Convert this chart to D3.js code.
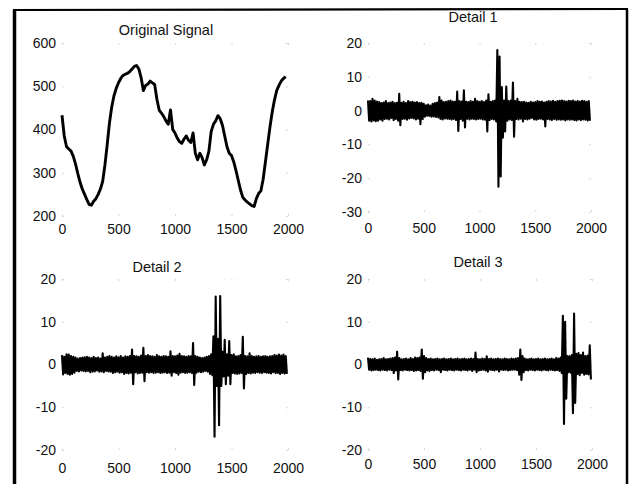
<!DOCTYPE html>
<html>
<head>
<meta charset="utf-8">
<script src="https://cdn.jsdelivr.net/npm/d3@7"></script>
<style>
  html, body { margin: 0; padding: 0; background: #fff; }
  svg { display: block; }
  text { font-family: "Liberation Sans", Arial, Helvetica, sans-serif; fill: #111; }
</style>
</head>
<body>
<svg id="chart" width="630" height="484"></svg>
<script>
// ---------- DATA ----------
const xTicks = [0, 500, 1000, 1500, 2000];
const origTicks = [200, 300, 400, 500, 600];
const d1Ticks = [-30, -20, -10, 0, 10, 20];
const dTicks = [-20, -10, 0, 10, 20];
const titles = ["Original Signal", "Detail 1", "Detail 2", "Detail 3"];

// Original signal, sampled every 20 (x = 0 .. 1980)
const originalStep = 20;
const original = [
  433, 385, 360, 355, 350, 338, 320, 298, 278, 262,
  250, 238, 227, 225, 234, 240, 250, 262, 280, 318,
  365, 415, 452, 478, 495, 508, 518, 525, 528, 530,
  534, 540, 546, 548, 540, 520, 490, 502, 505, 512,
  508, 504, 470, 445, 438, 430, 420, 412, 445, 400,
  392, 380, 372, 368, 378, 385, 375, 370, 392, 345,
  330, 345, 335, 318, 330, 350, 395, 412, 420, 432,
  425, 410, 385, 360, 345, 340, 325, 305, 282, 260,
  243, 237, 232, 228, 224, 222, 240, 252, 258, 285,
  325, 365, 405, 440, 468, 490, 502, 512, 518, 522
];

// Detail coefficients, sampled every 10 (x = 0 .. 1990)
const detailStep = 10;
const detail1 = [
  3,-3,2.8,-3.2,3.5,-2.9,3,-3.1,2.7,-3,
  2.5,-2.6,2.2,-3,2.4,-2.5,2.8,-2.4,2.2,-2.6,
  2.4,-2.2,2.6,-2.8,2.2,-2.5,2.3,-3,5,-4.3,
  2.3,-2.5,2.6,-2.4,2.2,-2.7,2.8,-2.3,2.5,-2.2,
  2.6,-2.3,2.4,-2.6,2.5,-2.4,2.2,-4,2.3,-2.5,
  2,-1.8,1.6,-1.5,1.8,-1.6,1.5,-1.8,2,-1.7,
  2.2,-1.9,2.4,-2,4,-2.5,3,-2.6,2.5,-2.3,
  2.6,-2.4,2.8,-2.5,3,-2.6,2.7,-2.5,2.6,-2.8,
  5.6,-6,2.8,-2.5,2.7,-3,6,-5,2.6,-2.4,
  2.5,-2.6,2.8,-2.4,2.6,-2.5,3.5,-2.6,2.8,-2.5,
  2.6,-2.4,2.8,-2.6,2.5,-2.7,3,-6.2,4.8,-2.8,
  2.6,-2.5,2.8,-2.6,3,-3.2,17.9,-22.5,16,-19.5,
  7,-8,3,-6.2,7.1,-3,2.8,-2.6,3,-2.8,
  8.3,-7.7,2.8,-2.5,3.5,-2.6,2.6,-2.4,2.5,-3.2,
  2.6,-2.5,2.4,-2.6,2.3,-2.4,2.6,-2.2,2.4,-2.6,
  2.5,-2.7,2.8,-2.5,2.6,-2.4,2.7,-2.6,2.4,-4.7,
  2.6,-2.5,2.8,-2.6,2.7,-2.8,2.9,-2.5,2.6,-2.7,
  2.8,-2.6,2.9,-2.7,3,-2.6,2.8,-2.9,2.7,-2.6,
  2.9,-2.7,2.8,-2.6,3,-2.8,2.7,-2.9,2.8,-2.6,
  2.7,-2.8,2.9,-2.6,2.8,-2.7,2.6,-2.9,2.8,-3
];
const detail2 = [
  2.2,-2.3,1.8,-2,2.4,-2.2,2.3,-2.4,2,-2.2,
  1.8,-1.9,1.6,-1.5,1.4,-1.6,1.5,-1.4,1.6,-1.5,
  1.7,-1.6,1.8,-1.5,1.6,-1.8,1.5,-1.7,1.8,-1.6,
  1.5,-1.4,1.6,-1.7,1.4,-1.6,2.6,-1.8,1.6,-1.5,
  1.8,-1.6,2,-1.7,1.8,-2,1.6,-1.8,1.9,-1.7,
  1.7,-1.9,2,-1.8,1.6,-2.2,1.9,-2,1.8,-2.1,
  2,-1.9,3.5,-4.6,2,-1.8,1.9,-2.1,1.8,-2,
  2.1,-1.9,3.9,-3.9,2,-1.8,2.2,-1.9,2,-1.8,
  1.9,-2,1.8,-1.9,2.2,-1.8,1.9,-2,1.8,-1.9,
  2,-1.8,1.9,-2,1.8,-1.9,3.1,-2.6,2,-1.8,
  1.9,-2,2.1,-2.4,2.5,-1.9,2,-1.8,1.9,-2,
  1.8,-1.9,2,-1.8,1.9,-2,5,-4.8,2,-1.9,
  1.8,-1.7,1.6,-1.8,1.5,-1.7,1.6,-1.5,1.8,-1.7,
  2,-2.2,2.4,-2.5,6.6,-16.9,15.9,-5,6,-14.2,
  16,-5,3,-2.8,5.8,-4.6,2.4,-2.6,5.5,-4.6,
  2.2,-2,2.4,-2.1,1.9,-2.2,2,-2.1,2.2,-2,
  6.5,-5.6,2,-2.2,1.9,-2,2.6,-2.1,2,-1.9,
  1.8,-2,1.9,-1.8,2,-1.9,1.8,-2,1.9,-1.8,
  2,-1.9,1.8,-2,1.9,-2.1,2,-1.8,2.2,-2,
  2.1,-2,2.3,-2.2,2.1,-2,2.3,-2.1,2,-2.2
];
const detail3 = [
  1.6,-1.2,1.3,-1.4,1.2,-1.3,1.4,-1.2,1.1,-1.3,
  1.2,-1.4,1.3,-1.2,1.5,-1.3,1.2,-1.4,1.3,-1.2,
  1.4,-1.3,1.5,-2,1.6,-1.4,3,-3.5,1.5,-1.3,
  1.2,-1.4,1.3,-1.2,1.4,-1.3,1.2,-1.4,1.5,-1.3,
  1.3,-1.5,1.6,-1.4,1.5,-1.3,1.6,-1.5,3.5,-3.3,
  2,-1.8,1.5,-1.4,1.3,-1.5,1.4,-1.3,1.2,-1.4,
  1.3,-1.2,1.4,-1.3,1.2,-1.8,1.3,-1.2,1.4,-1.3,
  1.2,-1.4,1.3,-1.2,1.4,-1.3,1.2,-1.4,1.3,-1.2,
  1.4,-1.3,1.2,-1.4,1.3,-1.2,1.4,-1.3,1.2,-1.4,
  1.3,-1.2,1.4,-1.5,1.3,-1.2,2.8,-1.8,1.3,-1.4,
  1.2,-1.3,1.4,-1.2,1.3,-1.4,1.9,-1.7,1.3,-1.2,
  1.4,-1.3,1.2,-1.4,1.3,-1.2,1.4,-1.6,1.3,-1.2,
  1.2,-1.3,1.4,-1.2,1.3,-1.4,1.2,-1.3,1.4,-1.2,
  1.3,-1.2,1.4,-1.3,1.5,-2.4,3.5,-3.6,2,-1.8,
  1.4,-1.3,1.2,-1.4,1.3,-1.2,1.4,-1.3,1.2,-1.4,
  1.3,-1.2,1.4,-1.3,1.2,-1.4,1.3,-1.2,1.4,-1.3,
  1.2,-1.4,1.3,-1.2,1.4,-1.3,1.2,-1.4,1.5,-1.3,
  1.4,-1.5,1.6,-2,11.4,-13.9,10,-8,2,-1.8,
  2,-1.9,2.2,-11.4,11.9,-9,2.5,-2.2,2.7,-2.5,
  2.2,-2,2.8,-2.4,2,-2.2,2.1,-2.3,4.5,-3.5
];

// ---------- LAYOUT ----------
const panels = [
  { title: titles[0], data: original, step: originalStep, yDomain: [200, 600], yTicks: origTicks,
    x: [62, 288], y: [216, 43], titleX: 166, titleY: 35, xPad: 8, width: 2.9 },
  { title: titles[1], data: detail1, step: detailStep, yDomain: [-30, 20], yTicks: d1Ticks,
    x: [368, 591], y: [212, 43], titleX: 473, titleY: 22, xPad: 11, width: 2.1 },
  { title: titles[2], data: detail2, step: detailStep, yDomain: [-20, 20], yTicks: dTicks,
    x: [62, 288], y: [450, 279], titleX: 157, titleY: 272, xPad: 13, width: 2.1 },
  { title: titles[3], data: detail3, step: detailStep, yDomain: [-20, 20], yTicks: dTicks,
    x: [368, 592], y: [450, 279], titleX: 478, titleY: 267, xPad: 9, width: 2.1 }
];

const svg = d3.select("#chart");

// outer scanned frame
svg.append("line").attr("x1", 14.5).attr("y1", 10).attr("x2", 14.5).attr("y2", 484)
  .attr("stroke", "#000").attr("stroke-width", 3.5);
svg.append("line").attr("x1", 13).attr("y1", 10).attr("x2", 628).attr("y2", 9)
  .attr("stroke", "#000").attr("stroke-width", 2.2);
svg.append("line").attr("x1", 627).attr("y1", 9).attr("x2", 627).attr("y2", 484)
  .attr("stroke", "#000").attr("stroke-width", 2.5);

const fmt = d => String(d);

panels.forEach(p => {
  const xs = d3.scaleLinear().domain([0, 2000]).range(p.x);
  const ys = d3.scaleLinear().domain(p.yDomain).range(p.y);
  const g = svg.append("g");

  // very faint box and inner ticks (as in the scan)
  g.append("rect")
    .attr("x", p.x[0]).attr("y", p.y[1])
    .attr("width", p.x[1] - p.x[0]).attr("height", p.y[0] - p.y[1])
    .attr("fill", "none").attr("stroke", "#ececec").attr("stroke-width", 0.7)
    .attr("stroke-dasharray", "1,5");

  const faint = sel => {
    sel.select(".domain").remove();
    sel.selectAll("line").attr("stroke", "#cfcfcf").attr("stroke-width", 0.8);
    sel.selectAll("text").remove();
  };
  g.append("g").attr("transform", `translate(0,${p.y[0]})`)
    .call(d3.axisBottom(xs).tickValues(xTicks).tickSize(-2)).call(faint);
  g.append("g").attr("transform", `translate(0,${p.y[1]})`)
    .call(d3.axisTop(xs).tickValues(xTicks).tickSize(-2)).call(faint);
  g.append("g").attr("transform", `translate(${p.x[0]},0)`)
    .call(d3.axisLeft(ys).tickValues(p.yTicks).tickSize(-2)).call(faint);
  g.append("g").attr("transform", `translate(${p.x[1]},0)`)
    .call(d3.axisRight(ys).tickValues(p.yTicks).tickSize(-2)).call(faint);

  // tick labels
  const labelStyle = sel => {
    sel.select(".domain").remove();
    sel.selectAll("line").remove();
    sel.selectAll("text").attr("font-size", 14)
      .attr("font-family", '"Liberation Sans", Arial, sans-serif').attr("fill", "#111");
  };
  g.append("g").attr("transform", `translate(0,${p.y[0]})`)
    .call(d3.axisBottom(xs).tickValues(xTicks).tickSize(0).tickPadding(p.xPad).tickFormat(fmt))
    .call(labelStyle);
  g.append("g").attr("transform", `translate(${p.x[0]},0)`)
    .call(d3.axisLeft(ys).tickValues(p.yTicks).tickSize(0).tickPadding(6).tickFormat(fmt))
    .call(labelStyle);

  // title
  g.append("text").attr("x", p.titleX).attr("y", p.titleY)
    .attr("text-anchor", "middle").attr("font-size", 14.5).text(p.title);

  // signal
  const line = d3.line()
    .x((d, i) => xs(i * p.step))
    .y(d => ys(d));
  g.append("path").datum(p.data)
    .attr("d", line)
    .attr("fill", "none").attr("stroke", "#000")
    .attr("stroke-width", p.width).attr("stroke-linejoin", "round");
});
</script>
</body>
</html>
